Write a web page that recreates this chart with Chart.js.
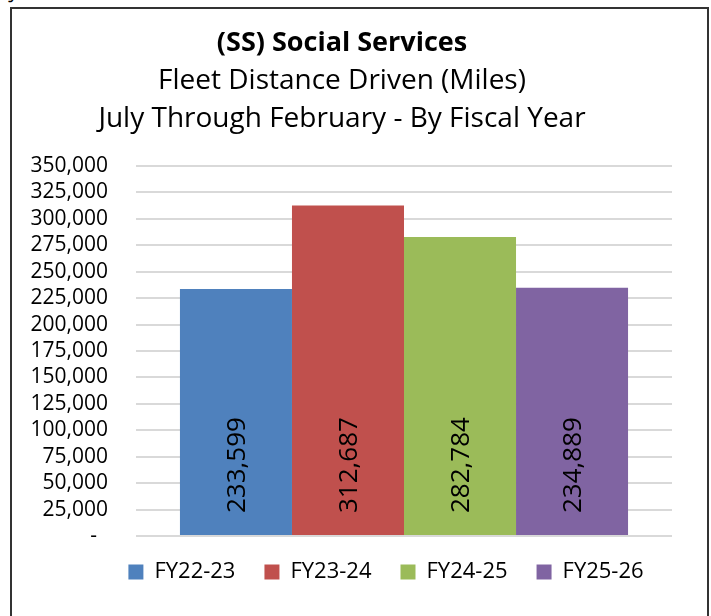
<!DOCTYPE html>
<html lang="en">
<head>
    <meta charset="UTF-8">
    <title>(SS) Social Services - Fleet Distance Driven</title>
    <script src="https://cdnjs.cloudflare.com/ajax/libs/Chart.js/4.4.0/chart.umd.min.js"></script>
    <style>
        body {
            margin: 0;
            background: #fff;
            overflow: hidden;
            font-family: "Open Sans", sans-serif;
        }
        #caption {
            position: absolute;
            left: 10px;
            top: -23px;
            font-size: 20px;
            color: #000;
            white-space: nowrap;
        }
        #box {
            position: absolute;
            left: 10px;
            top: 7px;
            width: 695px;
            height: 630px;
            border: 2px solid #333;
        }
    </style>
</head>
<body>
    <div id="caption">Julio a febrero - Por año fiscal</div>
    <div id="box">
        <canvas id="fleetChart" width="695" height="630"></canvas>
    </div>

    <script>
        // values
        const fiscalYears = ['FY22-23', 'FY23-24', 'FY24-25', 'FY25-26'];
        const milesDriven = [233599, 312687, 282784, 234889];
        const barColors = ['#4F81BD', '#C0504D', '#9BBB59', '#8064A2'];
        const titleLines = ['(SS) Social Services'];
        const subtitleLines = ['Fleet Distance Driven (Miles)', 'July Through February - By Fiscal Year'];

        const fontFamily = '"Open Sans", sans-serif';

        function fmt(v) {
            return v === 0 ? '-  ' : v.toLocaleString('en-US');
        }

        // vertical value labels sitting at the base of each bar
        const baseLabels = {
            id: 'baseLabels',
            afterDatasetsDraw(chart) {
                const ctx = chart.ctx;
                const zeroY = chart.scales.y.getPixelForValue(0);
                ctx.save();
                ctx.font = '26px ' + fontFamily;
                ctx.fillStyle = '#000';
                ctx.textAlign = 'left';
                ctx.textBaseline = 'middle';
                chart.data.datasets.forEach((ds, i) => {
                    const bar = chart.getDatasetMeta(i).data[0];
                    ctx.save();
                    ctx.translate(bar.x + 2, zeroY - 23);
                    ctx.rotate(-Math.PI / 2);
                    ctx.fillText(fmt(ds.data[0]), 0, 0);
                    ctx.restore();
                });
                ctx.restore();
            }
        };

        // the legend in the original sits a bit right of centre
        const legendShift = {
            id: 'legendShift',
            afterLayout(chart) {
                const lg = chart.legend;
                lg.left += 44; lg.right += 44;
                lg.top -= 4; lg.bottom -= 4;
            }
        };

        new Chart(document.getElementById('fleetChart'), {
            type: 'bar',
            data: {
                labels: [''],
                datasets: fiscalYears.map((fy, i) => ({
                    label: fy,
                    data: [milesDriven[i]],
                    backgroundColor: barColors[i],
                    borderWidth: 0
                }))
            },
            options: {
                responsive: false,
                animation: false,
                categoryPercentage: 0.836,
                barPercentage: 1.0,
                layout: {
                    padding: { left: 0, right: 35, top: 0, bottom: 42 }
                },
                plugins: {
                    title: {
                        display: true,
                        text: titleLines,
                        color: '#000',
                        font: { family: fontFamily, size: 27, weight: 'bold', lineHeight: 37 / 27 },
                        padding: { top: 16, bottom: 0 }
                    },
                    subtitle: {
                        display: true,
                        text: subtitleLines,
                        color: '#000',
                        font: { family: fontFamily, size: 28, lineHeight: 38 / 28 },
                        padding: { top: 0, bottom: 28 }
                    },
                    legend: {
                        position: 'bottom',
                        labels: {
                            boxWidth: 15,
                            boxHeight: 15,
                            padding: 29,
                            color: '#000',
                            font: { family: fontFamily, size: 22 }
                        }
                    },
                    tooltip: { enabled: false }
                },
                scales: {
                    x: { display: false },
                    y: {
                        min: 0,
                        max: 350000,
                        afterFit: (s) => { s.width = 124; },
                        ticks: {
                            stepSize: 25000,
                            autoSkip: false,
                            padding: 28,
                            color: '#000',
                            font: { family: fontFamily, size: 21 },
                            callback: (v) => fmt(v)
                        },
                        grid: {
                            color: '#d9d9d9',
                            lineWidth: 2,
                            drawTicks: false
                        },
                        border: { display: false }
                    }
                }
            },
            plugins: [baseLabels, legendShift]
        });
    </script>
</body>
</html>
